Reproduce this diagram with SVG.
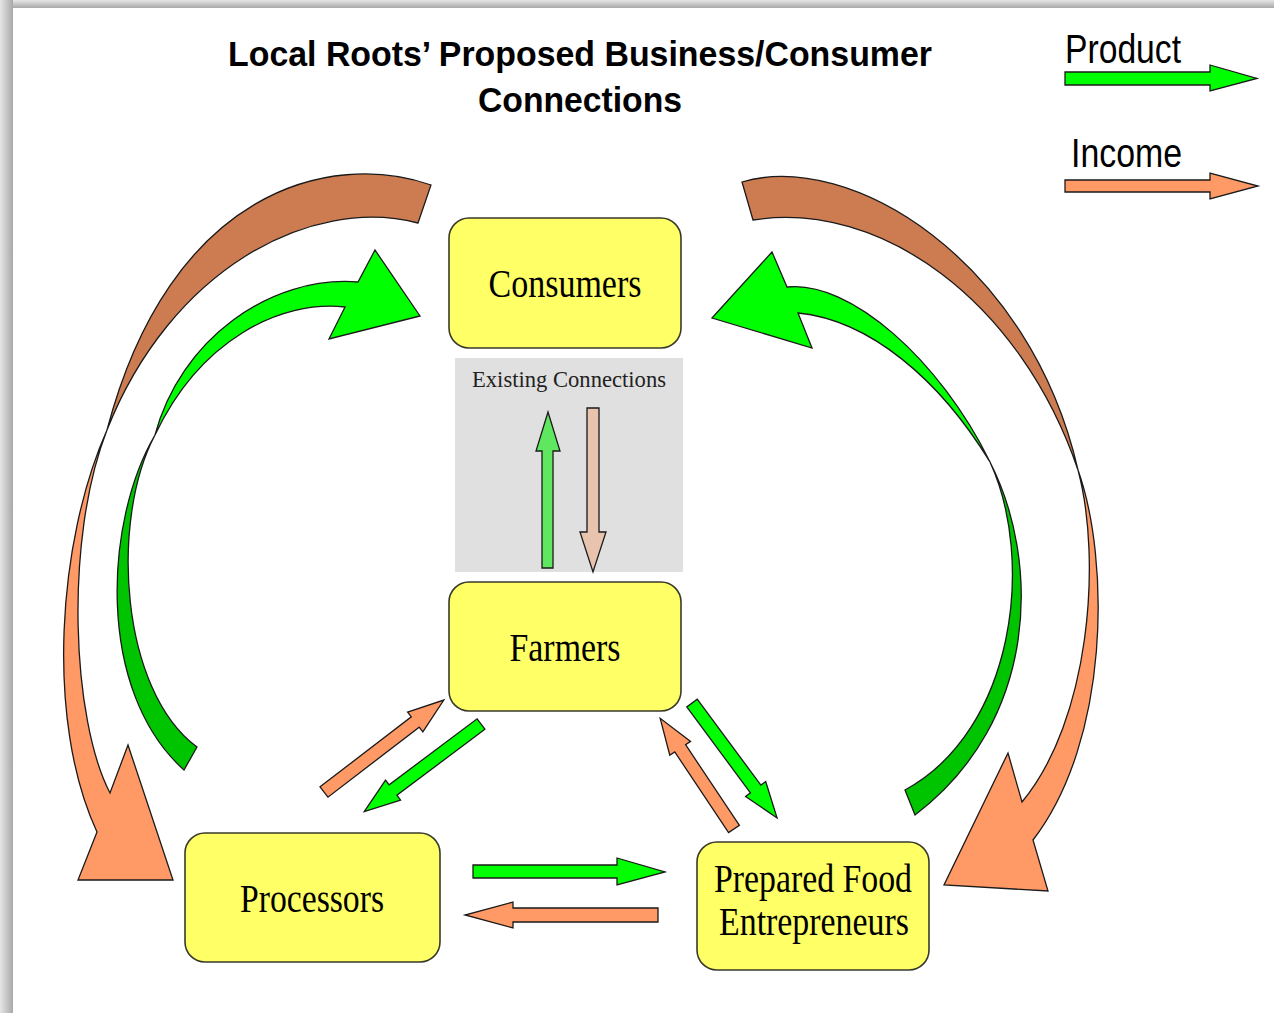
<svg xmlns="http://www.w3.org/2000/svg" width="1274" height="1013" viewBox="0 0 1274 1013">
<defs>
<linearGradient id="shL" x1="0" y1="0" x2="1" y2="0"><stop offset="0" stop-color="#e6e6e6"/><stop offset="1" stop-color="#a8a8a8"/></linearGradient>
<linearGradient id="shT" x1="0" y1="0" x2="0" y2="1"><stop offset="0" stop-color="#e6e6e6"/><stop offset="1" stop-color="#a8a8a8"/></linearGradient>
<style>
.box{fill:#ffff66;stroke:#3a3a2a;stroke-width:1.6}
.lbl{font-family:"Liberation Serif","Times New Roman",serif;font-size:40px;fill:#000;text-anchor:middle}
.sm{font-family:"Liberation Serif","Times New Roman",serif;font-size:22.5px;fill:#222;text-anchor:middle}
.ttl{font-family:"Liberation Sans",Arial,sans-serif;font-weight:bold;font-size:35px;fill:#000;text-anchor:middle}
.leg{font-family:"Liberation Sans",Arial,sans-serif;font-size:40px;fill:#000}
.ar{stroke:#1a1a1a;stroke-width:1.3;stroke-linejoin:miter}
.g{fill:#00ff00}.dg{fill:#00c400}.o{fill:#ff9966}.br{fill:#cd7c52}
</style>
</defs>
<rect x="0" y="0" width="1274" height="1013" fill="#ffffff"/>
<rect x="0" y="0" width="1274" height="8" fill="url(#shT)"/>
<rect x="0" y="0" width="13" height="1013" fill="url(#shL)"/>

<g id="title">
<text class="ttl" x="580" y="66" textLength="704" lengthAdjust="spacingAndGlyphs">Local Roots’ Proposed Business/Consumer</text>
<text class="ttl" x="580" y="112" textLength="204" lengthAdjust="spacingAndGlyphs">Connections</text>
</g>

<g id="legend">
<text class="leg" x="1065" y="63" textLength="116" lengthAdjust="spacingAndGlyphs">Product</text>
<polygon class="ar g" points="1065,72 1210,72 1210,65 1257,78.5 1210,91 1210,85 1065,85"/>
<text class="leg" x="1071" y="167" textLength="111" lengthAdjust="spacingAndGlyphs">Income</text>
<polygon class="ar o" points="1065,180 1210,180 1210,173 1258,186 1210,199 1210,192 1065,192"/>
</g>

<g id="existing">
<rect x="455" y="358" width="228" height="214" fill="#e0e0e0"/>
<text class="sm" x="569" y="387" textLength="194" lengthAdjust="spacingAndGlyphs">Existing Connections</text>
</g>

<g id="consumers"><rect class="box" x="449" y="218" width="232" height="130" rx="20"/><text class="lbl" x="565" y="297" textLength="153" lengthAdjust="spacingAndGlyphs">Consumers</text></g>
<g id="farmers"><rect class="box" x="449" y="582" width="232" height="129" rx="20"/><text class="lbl" x="565" y="661" textLength="111" lengthAdjust="spacingAndGlyphs">Farmers</text></g>
<g id="processors"><rect class="box" x="185" y="833" width="255" height="129" rx="20"/><text class="lbl" x="312" y="912" textLength="144" lengthAdjust="spacingAndGlyphs">Processors</text></g>
<g id="entrepreneurs"><rect class="box" x="697" y="842" width="232" height="128" rx="20"/><text class="lbl" x="813" y="892" textLength="198" lengthAdjust="spacingAndGlyphs">Prepared Food</text><text class="lbl" x="814" y="935" textLength="190" lengthAdjust="spacingAndGlyphs">Entrepreneurs</text></g>

<g id="connectors">
<polygon class="ar" fill="#5fe85f" points="542,568 542,451 536,451 548,412 560,451 553,451 553,568"/>
<polygon class="ar" fill="#e8c3ad" points="587,408 599,408 599,532 606,532 593,572 580,532 587,532"/>

<path class="ar br" d="M431,185 C330,150 170,190 107,430 C170,270 310,195 418,223 Z"/>
<path class="ar o" d="M107,430 C58,540 45,720 97,832 L78,880 L173,880 L128,745 L110,793 C72,720 64,540 107,430 Z"/>
<path class="ar dg" d="M155,435 C105,520 95,690 184,770 L197,747 C120,690 110,520 155,435 Z"/>
<path class="ar g" d="M155,435 C180,340 270,275 358,282 L375,250 L420,316 L329,339 L345,307 C280,300 200,340 155,435 Z"/>

<path class="ar br" d="M742,182 C850,150 1030,260 1078,470 C1020,300 880,200 753,220 Z"/>
<path class="ar o" d="M1078,470 C1110,560 1110,740 1033,840 L1048,891 L944,885 L1008,753 L1022,802 C1090,720 1102,560 1078,470 Z"/>
<path class="ar dg" d="M990,462 C1040,560 1040,720 915,815 L905,790 C1015,730 1035,560 990,462 Z"/>
<path class="ar g" d="M990,462 C940,380 870,320 798,313 L812,348 L712,318 L772,252 L787,287 C850,280 940,360 990,462 Z"/>

<polygon class="ar o" transform="translate(324,792) rotate(-37.5)" points="0,-6.5 115,-6.5 115,-12.5 151,0 115,12.5 115,6.5 0,6.5"/>
<polygon class="ar g" transform="translate(481,724) rotate(143.1)" points="0,-6.5 110,-6.5 110,-12.5 146,0 110,12.5 110,6.5 0,6.5"/>
<polygon class="ar o" transform="translate(734,829) rotate(-123.7)" points="0,-6.5 97,-6.5 97,-12.5 133,0 97,12.5 97,6.5 0,6.5"/>
<polygon class="ar g" transform="translate(692,703) rotate(53.5)" points="0,-6.5 107,-6.5 107,-12.5 143,0 107,12.5 107,6.5 0,6.5"/>

<polygon class="ar g" points="473,865 617,865 617,858 665,872 617,885 617,878 473,878"/>
<polygon class="ar o" points="658,908 513,908 513,902 465,915 513,928 513,922 658,922"/>
</g>
</svg>
